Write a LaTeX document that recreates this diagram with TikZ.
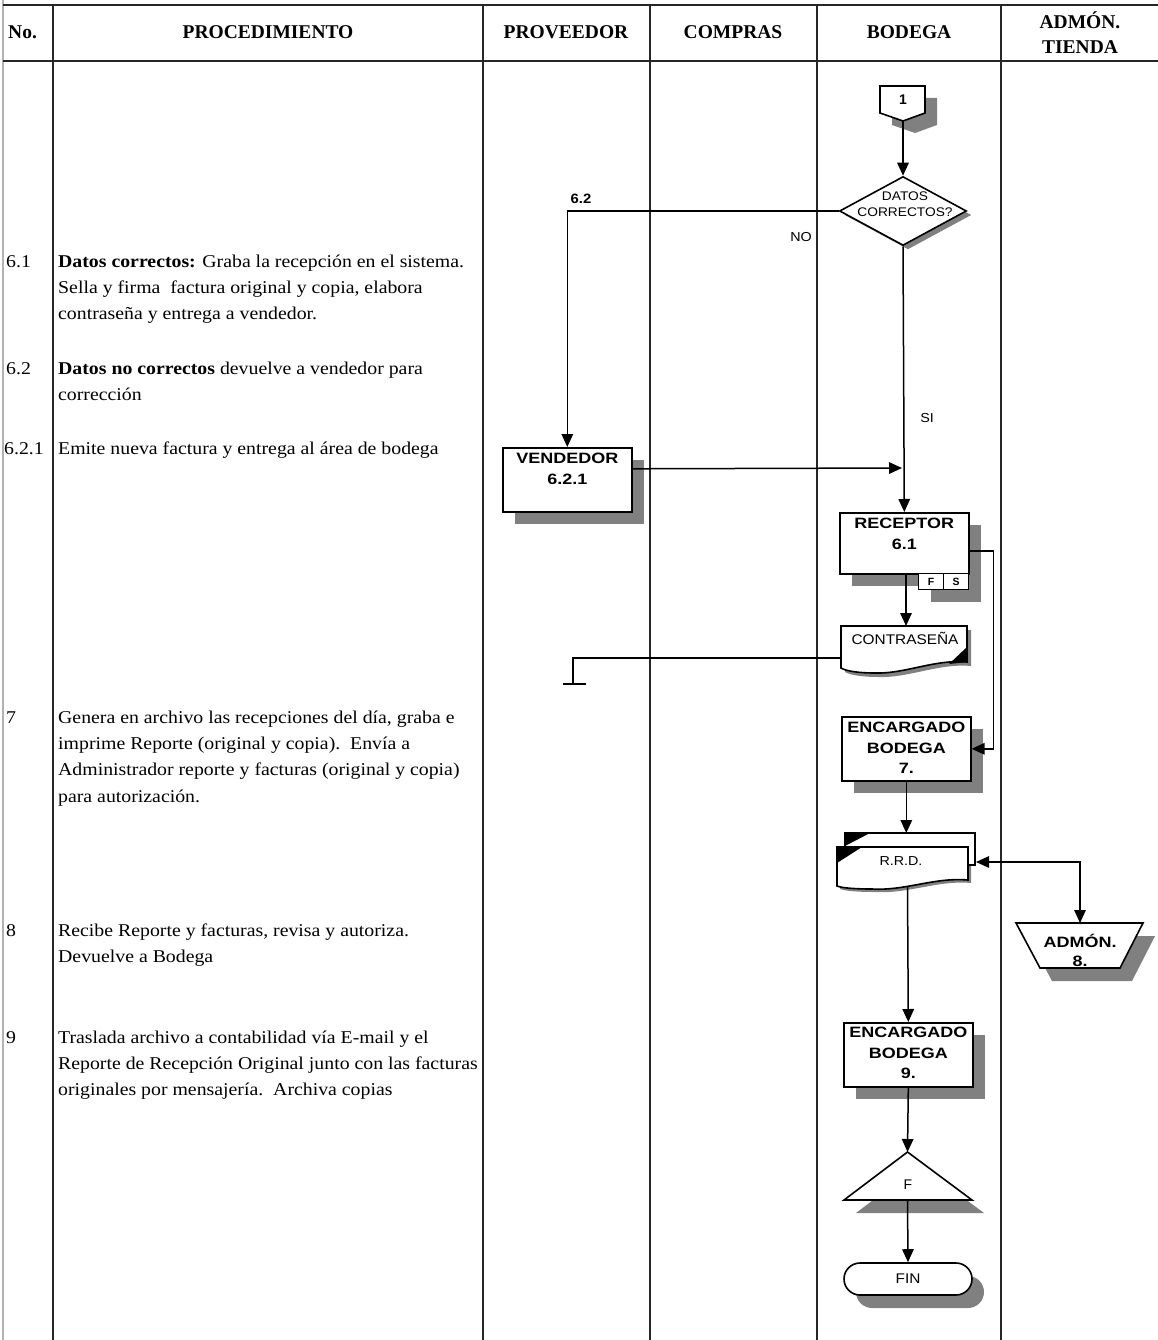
\documentclass[tikz,border=0pt]{standalone}
\usepackage{fontspec}
\setmainfont{Liberation Serif}
\newfontfamily\lab{Liberation Sans}
\usetikzlibrary{arrows.meta,shapes.geometric,shapes.misc,shadows,calc}
\definecolor{shd}{RGB}{128,128,128}
\newcommand\hx[1]{\scalebox{1.1}[1]{#1}}
\newcommand\hw[1]{\scalebox{1.2}[1]{#1}}
\begin{document}
\begin{tikzpicture}[x=1pt,y=-1pt,
  tline/.style={line width=1.4pt, black!85},
  conn/.style={line width=1.5pt},
  tipA/.tip={Triangle[length=13pt,width=11.5pt]},
  arr/.style={conn,-tipA},
  shapeline/.style={line width=1.6pt, fill=white},
  shadowfill/.style={fill=shd},
  txt/.style={anchor=base west, inner sep=0, font=\fontsize{18}{26}\selectfont},
  hdr/.style={anchor=base, inner sep=0, font=\fontsize{19.5}{22}\selectfont\bfseries},
  lbl/.style={inner sep=0, align=center, font=\lab\bfseries\fontsize{15}{20.5}\selectfont},
  smalltxt/.style={inner sep=0, align=center, font=\lab\fontsize{12.5}{16}\selectfont},
  pbox/.style={draw, line width=1.6pt, fill=white, inner sep=0, anchor=north west,
    drop shadow={shadow xshift=12pt, shadow yshift=-12pt, fill=shd, opacity=1}},
]
\useasboundingbox (0,0) rectangle (1158,1340);
\fill[white] (0,0) rectangle (1158,1340);

% ---------- table ----------
\draw[black!30, line width=1.5pt] (3,0) -- (3,1340);
\draw[tline] (3,5) -- (1158,5);
\draw[tline] (3,61) -- (1158,61);
\foreach \xx in {53,483,650,817,1001} \draw[tline] (\xx,5) -- (\xx,1340);

\node[hdr, anchor=base west] (hno) at (8,39) {No.};
\node[hdr] (hproc) at (268,39) {PROCEDIMIENTO};
\node[hdr] (hprov) at (566,39) {PROVEEDOR};
\node[hdr] (hcomp) at (733,39) {COMPRAS};
\node[hdr] (hbod) at (909,39) {BODEGA};
\node[hdr] (hadm) at (1080,29) {ADMÓN.};
\node[hdr] (htie) at (1080,54) {TIENDA};

% ---------- procedure text ----------
\node[txt] (n61) at (6,267) {\hx{6.1}};
\node[txt] (t61a) at (58,267) {\hx{\textbf{Datos correctos:} Graba la recepción en el sistema.}};
\node[txt] (t61b) at (58,293) {\hx{Sella y firma\ \ factura original y copia, elabora}};
\node[txt] (t61c) at (58,319) {\hx{contraseña y entrega a vendedor.}};
\node[txt] (n62) at (6,374) {\hx{6.2}};
\node[txt] (t62a) at (58,374) {\hx{\textbf{Datos no correctos} devuelve a vendedor para}};
\node[txt] (t62b) at (58,400) {\hx{corrección}};
\node[txt] (n621) at (4,454) {\hx{6.2.1}};
\node[txt] (t621) at (58,454) {\hx{Emite nueva factura y entrega al área de bodega}};
\node[txt] (n7) at (6,723) {\hx{7}};
\node[txt] (t7a) at (58,723) {\hx{Genera en archivo las recepciones del día, graba e}};
\node[txt] (t7b) at (58,749) {\hx{imprime Reporte (original y copia).\ \ Envía a}};
\node[txt] (t7c) at (58,775) {\hx{Administrador reporte y facturas (original y copia)}};
\node[txt] (t7d) at (58,802) {\hx{para autorización.}};
\node[txt] (n8) at (6,936) {\hx{8}};
\node[txt] (t8a) at (58,936) {\hx{Recibe Reporte y facturas, revisa y autoriza.}};
\node[txt] (t8b) at (58,962) {\hx{Devuelve a Bodega}};
\node[txt] (n9) at (6,1043) {\hx{9}};
\node[txt] (t9a) at (58,1043) {\hx{Traslada archivo a contabilidad vía E-mail y el}};
\node[txt] (t9b) at (58,1069) {\hx{Reporte de Recepción Original junto con las facturas}};
\node[txt] (t9c) at (58,1095) {\hx{originales por mensajería.\ \ Archiva copias}};

% ---------- off-page connector 1 ----------
\fill[shadowfill, shift={(12,12)}] (880,86) -- (925,86) -- (925,113) -- (903,121) -- (880,113) -- cycle;
\draw[shapeline] (880,86) -- (925,86) -- (925,113) -- (903,121) -- (880,113) -- cycle;
\node[lbl, font=\lab\bfseries\fontsize{14}{16}\selectfont] (c1) at (903,100) {1};
\coordinate (c1b) at (903,121);

% ---------- decision ----------
\node[diamond, draw, line width=1.6pt, fill=white, minimum width=127pt, minimum height=69pt, inner sep=0,
  drop shadow={shadow xshift=5pt, shadow yshift=-4pt, fill=shd, opacity=1}] (dec) at (903,211) {};
\node[smalltxt] (dect) at (905,204) {\hx{DATOS}\\\hx{CORRECTOS?}};

% ---------- boxes ----------
\node[pbox, minimum width=129pt, minimum height=64pt] (vend) at (502,447) {};
\node[lbl, anchor=north] (vendt) at ([yshift=-6pt]vend.north) {\hw{VENDEDOR}\\\hw{6.2.1}};

\node[pbox, minimum width=129pt, minimum height=61pt] (rec) at (839,512) {};
\node[lbl, anchor=north] (rect) at ([yshift=-6pt]rec.north) {\hw{RECEPTOR}\\\hw{6.1}};
\node[pbox, line width=1.2pt, minimum width=25pt, minimum height=16pt] (fbox) at (918,573) {};
\node[pbox, line width=1.2pt, minimum width=25pt, minimum height=16pt] (sbox) at (943,573) {};
\node[lbl, font=\lab\bfseries\fontsize{10.5}{12}\selectfont] (ft) at (fbox.center) {F};
\node[lbl, font=\lab\bfseries\fontsize{10.5}{12}\selectfont] (st) at (sbox.center) {S};

% ---------- contraseña document ----------
\fill[shadowfill, shift={(4,4)}] (841,626) -- (967,626) -- (967,662) .. controls (935,659) and (905,674) .. (875,673) .. controls (858,673) and (846,671) .. (841,668) -- cycle;
\draw[shapeline] (841,626) -- (967,626) -- (967,662) .. controls (935,659) and (905,674) .. (875,673) .. controls (858,673) and (846,671) .. (841,668) -- cycle;
\fill[black] (967,647) -- (967,662) -- (949,664) -- cycle;
\node[smalltxt, font=\lab\fontsize{14}{16}\selectfont] (cont) at (905,638) {\hx{CONTRASEÑA}};
\coordinate (conT) at (906,626);
\coordinate (conW) at (841,658);
\coordinate (tend) at (573,684);

% ---------- encargado 7 ----------
\node[pbox, minimum width=129pt, minimum height=64pt] (enc7) at (841,716) {};
\node[lbl, anchor=north] (enc7t) at ([yshift=-6pt]enc7.north) {\hw{ENCARGADO}\\\hw{BODEGA}\\\hw{7.}};

% ---------- R.R.D. multi document ----------
\fill[shadowfill, shift={(3,3)}] (837,847) -- (968,847) -- (968,880) .. controls (935,877) and (905,891) .. (872,889) .. controls (855,889) and (842,888) .. (837,886) -- cycle;
\draw[shapeline] (845,833) rectangle (975,865);
\fill[black] (845,833) -- (870,833) -- (845,846) -- cycle;
\draw[shapeline] (837,847) -- (968,847) -- (968,880) .. controls (935,877) and (905,891) .. (872,889) .. controls (855,889) and (842,888) .. (837,886) -- cycle;
\fill[black] (837,847) -- (862,847) -- (837,863) -- cycle;
\node[smalltxt, font=\lab\fontsize{13}{15}\selectfont] (rrdt) at (901,861) {\hx{R.R.D.}};
\coordinate (rrdT) at (906,833);
\coordinate (rrdE) at (976,862);
\coordinate (rrdS) at (907.5,886);

% ---------- ADMÓN manual operation ----------
\fill[shadowfill, shift={(12,13)}] (1016,923) -- (1143,923) -- (1120,968) -- (1040,968) -- cycle;
\draw[shapeline] (1016,923) -- (1143,923) -- (1120,968) -- (1040,968) -- cycle;
\node[lbl] (admt) at (1080,950) {\hw{ADMÓN.}\\[-1.5pt]\hw{8.}};
\coordinate (admT) at (1080,923);

% ---------- encargado 9 ----------
\node[pbox, minimum width=129pt, minimum height=64pt] (enc9) at (843,1022) {};
\node[lbl, anchor=north] (enc9t) at ([yshift=-5pt]enc9.north) {\hw{ENCARGADO}\\\hw{BODEGA}\\\hw{9.}};

% ---------- triangle F ----------
\fill[shadowfill, shift={(12,13)}] (907.5,1152) -- (972,1200) -- (844,1200) -- cycle;
\draw[shapeline] (907.5,1152) -- (972,1200) -- (844,1200) -- cycle;
\node[smalltxt, font=\lab\fontsize{14}{16}\selectfont] (trit) at (908,1185) {F};
\coordinate (triT) at (907.5,1152);
\coordinate (triB) at (907.5,1200);

% ---------- FIN ----------
\node[rounded rectangle, draw, line width=1.6pt, fill=white, minimum width=128pt, minimum height=32pt, inner sep=0,
  drop shadow={shadow xshift=12pt, shadow yshift=-13pt, fill=shd, opacity=1}] (fin) at (908,1279) {};
\node[smalltxt, font=\lab\fontsize{14}{16}\selectfont] (fint) at (fin.center) {\hx{FIN}};

% ---------- connectors ----------
\draw[arr] (c1b) -- (dec.north);
\draw[arr] (dec.west) -| (vend.north);
\node[smalltxt, font=\lab\bfseries\fontsize{13.5}{15}\selectfont] (l62) at (581,199) {\hx{6.2}};
\node[smalltxt, font=\lab\fontsize{13}{15}\selectfont] (lno) at (801,237) {\hx{NO}};
\draw[arr] (dec.south) -- (rec.north);
\node[smalltxt, font=\lab\fontsize{13}{15}\selectfont] (lsi) at (927,418) {\hx{SI}};
\coordinate (m1) at (902,468);
\draw[arr] ([yshift=11pt]vend.east) -- (m1);
\draw[arr] (rec.south -| conT) -- (conT);
\draw[arr] ([yshift=-7.5pt]rec.east) -- ++(24,0) |- (enc7.east);
\draw[conn] (conW) -| (tend);
\draw[conn] ($(tend)+(-10,0)$) -- ($(tend)+(13,0)$);
\draw[arr] (enc7.south) -- (enc7.south |- rrdT);
\draw[conn, tipA-tipA] (rrdE) -| (admT);
\draw[arr] (rrdS) -- (enc9.north);
\draw[arr] (enc9.south) -- (triT);
\draw[arr] (triB) -- (fin.north);
\end{tikzpicture}
\end{document}
